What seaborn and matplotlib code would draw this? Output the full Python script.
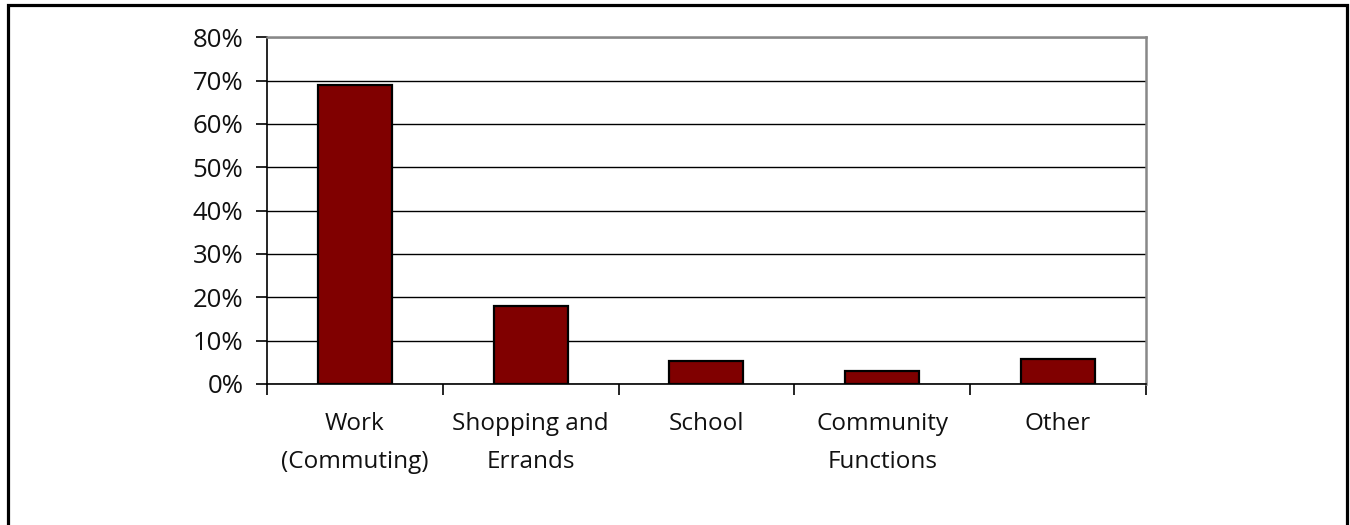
import matplotlib
matplotlib.use("Agg")
import matplotlib.pyplot as plt
from matplotlib.patches import Rectangle
from matplotlib.ticker import FuncFormatter, FixedLocator
import seaborn as sns
import pandas as pd

# Trip purpose shares
categories = ["Work\n(Commuting)", "Shopping and\nErrands", "School", "Community\nFunctions", "Other"]
shares = [0.69, 0.18, 0.053, 0.030, 0.058]
y_ticks = [0.0, 0.1, 0.2, 0.3, 0.4, 0.5, 0.6, 0.7, 0.8]

sns.set_theme(style="white")
plt.rcParams["font.family"] = ["Open Sans", "DejaVu Sans"]

df = pd.DataFrame({"purpose": categories, "share": shares})

fig = plt.figure(figsize=(13.5, 5.25), dpi=100)
ax = fig.add_axes([0.1978, 0.2686, 0.8487 - 0.1978, 0.929 - 0.2686])

sns.barplot(data=df, x="purpose", y="share", color="#800000", saturation=1,
            edgecolor="black", linewidth=1.6, width=0.42, ax=ax, zorder=3)

ax.set_ylim(0, 0.8)
ax.set_xlim(-0.5, len(categories) - 0.5)
ax.yaxis.set_major_locator(FixedLocator(y_ticks))
ax.yaxis.set_major_formatter(FuncFormatter(lambda v, _: f"{v:.0%}"))
ax.grid(axis="y", color="black", linewidth=1.0, zorder=0)
ax.set_axisbelow(True)
ax.set_xlabel("")
ax.set_ylabel("")

# Category separators on the x axis
ax.set_xticks([i - 0.5 for i in range(len(categories) + 1)], minor=True)
ax.tick_params(axis="x", which="major", length=0, pad=20, labelsize=17.5)
ax.tick_params(axis="x", which="minor", length=8, width=1.2, color="black", direction="out", bottom=True)
ax.tick_params(axis="y", length=8, width=1.2, color="black", direction="out", left=True, pad=9, labelsize=18.5)
for lbl in ax.get_xticklabels():
    lbl.set_linespacing(1.78)
for lbl in ax.get_xticklabels() + ax.get_yticklabels():
    lbl.set_color("#111111")

for side in ["left", "bottom"]:
    ax.spines[side].set_color("black")
    ax.spines[side].set_linewidth(1.2)
for side in ["top", "right"]:
    ax.spines[side].set_visible(True)
    ax.spines[side].set_color("#888888")
    ax.spines[side].set_linewidth(1.8)

# Outer frame around the chart
fig.patches.append(Rectangle((7.5 / 1350, -0.05), (1346.5 - 7.5) / 1350, 1.05 - 5 / 525,
                             transform=fig.transFigure, fill=False,
                             edgecolor="black", linewidth=2.3))

fig.savefig("out.png", dpi=100, facecolor="white")
